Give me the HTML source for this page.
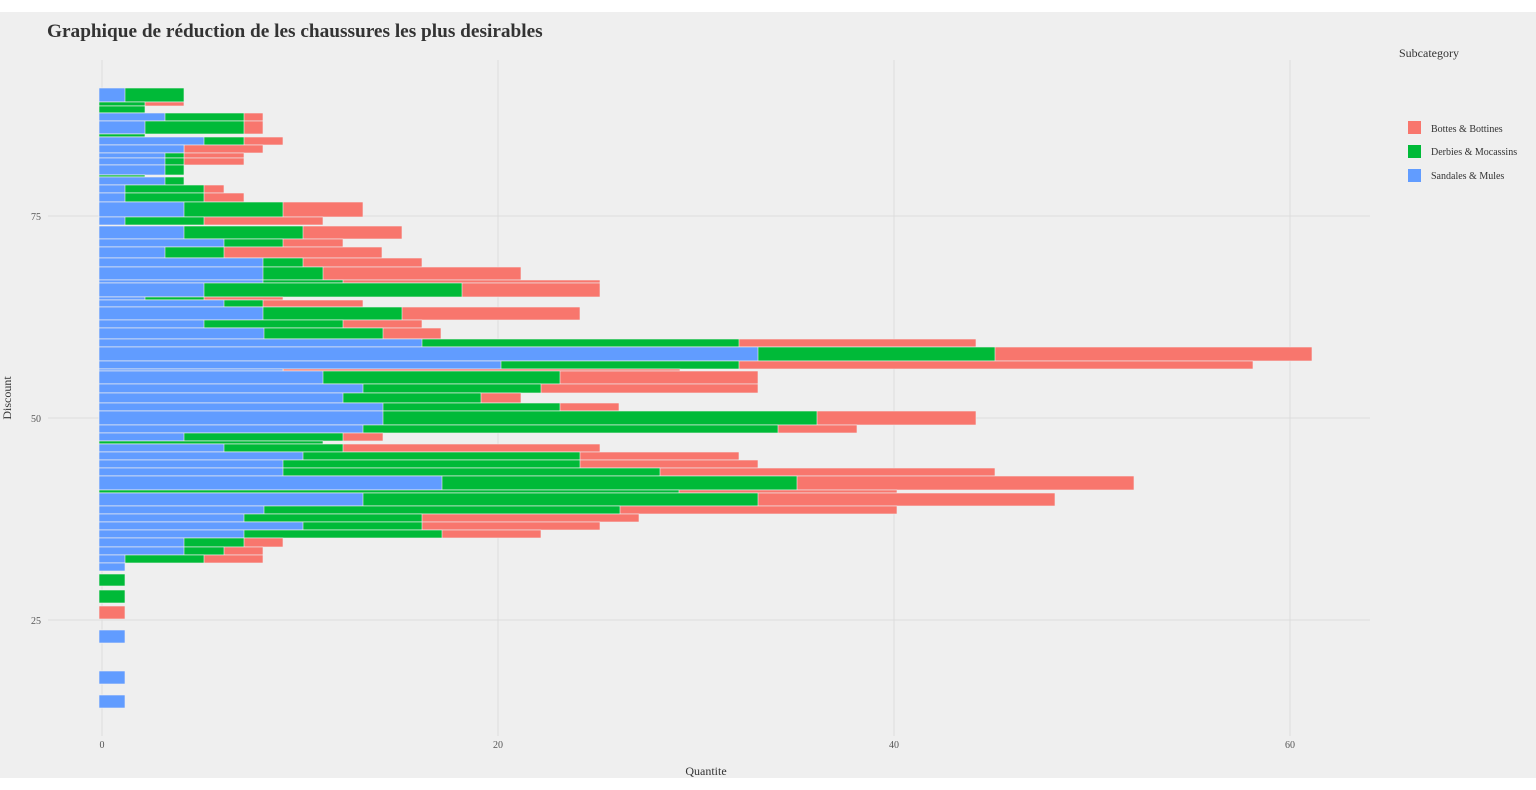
<!DOCTYPE html>
<html><head><meta charset="utf-8"><style>
html,body{margin:0;padding:0;background:#fff;}
svg{display:block;}
text{font-family:"Liberation Serif",serif;}
</style></head><body>
<svg width="1536" height="790" xmlns="http://www.w3.org/2000/svg">
<rect x="0" y="12" width="1536" height="766" fill="#efefef"/>
<g stroke="#dcdcdc" stroke-width="1">
<line x1="102" y1="60" x2="102" y2="736"/><line x1="498" y1="60" x2="498" y2="736"/>
<line x1="894" y1="60" x2="894" y2="736"/><line x1="1290" y1="60" x2="1290" y2="736"/>
<line x1="48" y1="216" x2="1370" y2="216"/><line x1="48" y1="418" x2="1370" y2="418"/>
<line x1="48" y1="620" x2="1370" y2="620"/>
</g>
<g id="bars" stroke="#efefef" stroke-width="0.6"></g>
<g fill="#555" font-size="10">
<text x="102" y="748" text-anchor="middle">0</text>
<text x="498" y="748" text-anchor="middle">20</text>
<text x="894" y="748" text-anchor="middle">40</text>
<text x="1290" y="748" text-anchor="middle">60</text>
<text x="41" y="220" text-anchor="end">75</text>
<text x="41" y="422" text-anchor="end">50</text>
<text x="41" y="624" text-anchor="end">25</text>
</g>
<text x="706" y="775" text-anchor="middle" font-size="12" fill="#333">Quantite</text>
<text transform="translate(11,398) rotate(-90)" text-anchor="middle" font-size="12" fill="#333">Discount</text>
<text x="47" y="37" font-size="19.3" font-weight="bold" fill="#333">Graphique de réduction de les chaussures les plus desirables</text>
<text x="1399" y="57" font-size="12" fill="#333">Subcategory</text>
<rect x="1408" y="121" width="13" height="13" fill="#f8766d"/>
<rect x="1408" y="145" width="13" height="13" fill="#00ba38"/>
<rect x="1408" y="169" width="13" height="13" fill="#619cff"/>
<g font-size="10" fill="#333">
<text x="1431" y="132">Bottes &amp; Bottines</text>
<text x="1431" y="155">Derbies &amp; Mocassins</text>
<text x="1431" y="179">Sandales &amp; Mules</text>
</g>
</svg>
<script>
var rows=[[88,14,125,184,184],[102,4,99,145,184],[106,7,99,145,145],[113,8,165,244,263],[121,13,145,244,263],[134,3,99,145,145],[137,8,204,244,283],[145,8,184,184,263],[153,5,165,184,244],[158,7,165,184,244],[165,10,165,184,184],[175,2,99,145,145],[177,8,165,184,184],[185,8,125,204,224],[193,9,125,204,244],[202,15,184,283,363],[217,8,125,204,323],[226,13,184,303,402],[239,8,224,283,343],[247,11,165,224,382],[258,9,263,303,422],[267,13,263,323,521],[280,3,263,343,600],[283,14,204,462,600],[297,3,145,204,283],[300,7,224,263,363],[307,13,263,402,580],[320,8,204,343,422],[328,11,264,383,441],[339,8,422,739,976],[347,14,758,995,1312],[361,8,501,739,1253],[369,2,283,283,680],[371,13,323,560,758],[384,9,363,541,758],[393,10,343,481,521],[403,8,383,560,619],[411,14,383,817,976],[425,8,363,778,857],[433,8,184,343,383],[441,3,99,323,323],[444,8,224,343,600],[452,8,303,580,739],[460,8,283,580,758],[468,8,283,660,995],[476,14,442,797,1134],[490,3,99,679,897],[493,13,363,758,1055],[506,8,264,620,897],[514,8,244,422,639],[522,8,303,422,600],[530,8,244,442,541],[538,9,184,244,283],[547,8,184,224,263],[555,8,125,204,263],[563,8,125,125,125],
[574,12,99,125,125],[590,13,99,125,125],[606,13,99,99,125],[630,13,125,125,125],[671,13,125,125,125],[695,13,125,125,125]];
var g=document.getElementById('bars'),h='';
rows.forEach(function(r){
 var cols=[[r[4],'#f8766d'],[r[3],'#00ba38'],[r[2],'#619cff']];
 cols.forEach(function(c){ if(c[0]>99) h+='<rect x="99" y="'+r[0]+'" width="'+(c[0]-99)+'" height="'+r[1]+'" fill="'+c[1]+'"/>';});
});
g.innerHTML=h;
</script>
</body></html>
